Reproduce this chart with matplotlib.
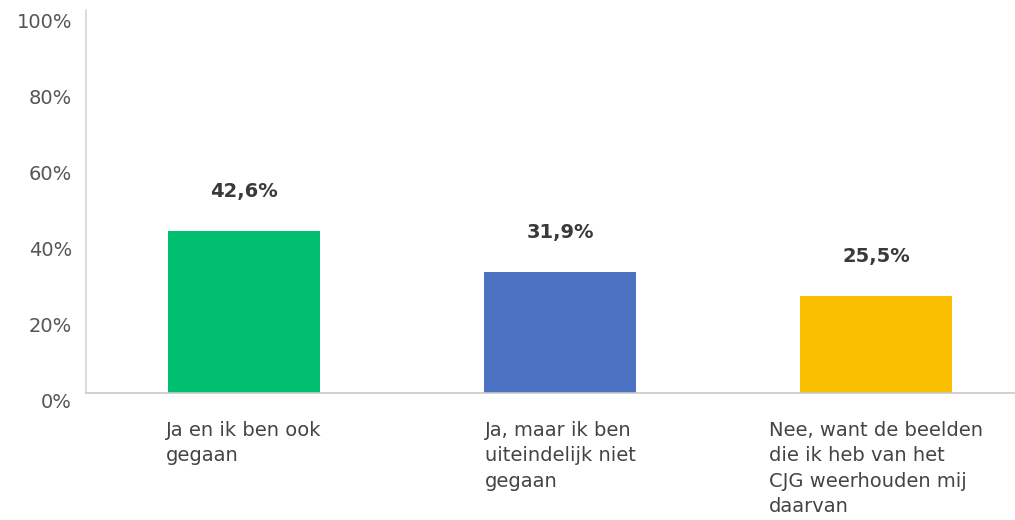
import matplotlib
matplotlib.use("Agg")
import matplotlib.pyplot as plt
import matplotlib.transforms as mtransforms

categories = [
    "Ja en ik ben ook\ngegaan",
    "Ja, maar ik ben\nuiteindelijk niet\ngegaan",
    "Nee, want de beelden\ndie ik heb van het\nCJG weerhouden mij\ndaarvan",
]
values = [42.6, 31.9, 25.5]
value_labels = ["42,6%", "31,9%", "25,5%"]
colors = ["#00BF6F", "#4A72C0", "#F9BE00"]
yticks = [0, 20, 40, 60, 80, 100]
ytick_labels = ["0%", "20%", "40%", "60%", "80%", "100%"]

plt.rcParams["font.family"] = ["DejaVu Sans"]

fig = plt.figure(figsize=(10.15, 5.2), dpi=100)
W, H = 1015, 520
left, right, top, bottom = 86, 1015, 10, 393
ax = fig.add_axes([left / W, (H - bottom) / H, (right - left) / W, (bottom - top) / H])

x = list(range(len(values)))
width = 0.48
ax.bar(x, values, width=width, color=colors, zorder=2)

ax.set_xlim(-0.5, 2.44)
ax.set_ylim(0, 100 * (bottom - top) / 380)

for s in ["top", "right"]:
    ax.spines[s].set_visible(False)
ax.spines["left"].set_color("#d6d6d6")
ax.spines["bottom"].set_color("#c8c8c8")
ax.spines["left"].set_linewidth(1.2)
ax.spines["bottom"].set_linewidth(1.2)

ax.set_yticks(yticks)
ax.set_yticklabels(ytick_labels, fontsize=14, color="#555555")
ax.tick_params(axis="y", length=0, pad=10)
offset = mtransforms.ScaledTranslation(0, -8 / 100, fig.dpi_scale_trans)
for lab in ax.get_yticklabels():
    lab.set_transform(lab.get_transform() + offset)

ax.set_xticks([])

for xi, v, lab in zip(x, values, value_labels):
    ax.annotate(lab, (xi, v), xytext=(0, 30), textcoords="offset pixels",
                ha="center", va="bottom", fontsize=14, fontweight="bold",
                color="#3a3a3a")

trans = mtransforms.blended_transform_factory(ax.transData, ax.transAxes)
for xi, cat in zip(x, categories):
    ax.annotate(cat, (xi, 0), xycoords=trans, xytext=(0, -28),
                textcoords="offset pixels", ha="center", va="top",
                multialignment="left", fontsize=14,
                color="#444444", linespacing=1.42, annotation_clip=False)

fig.savefig("out.png", dpi=100)
